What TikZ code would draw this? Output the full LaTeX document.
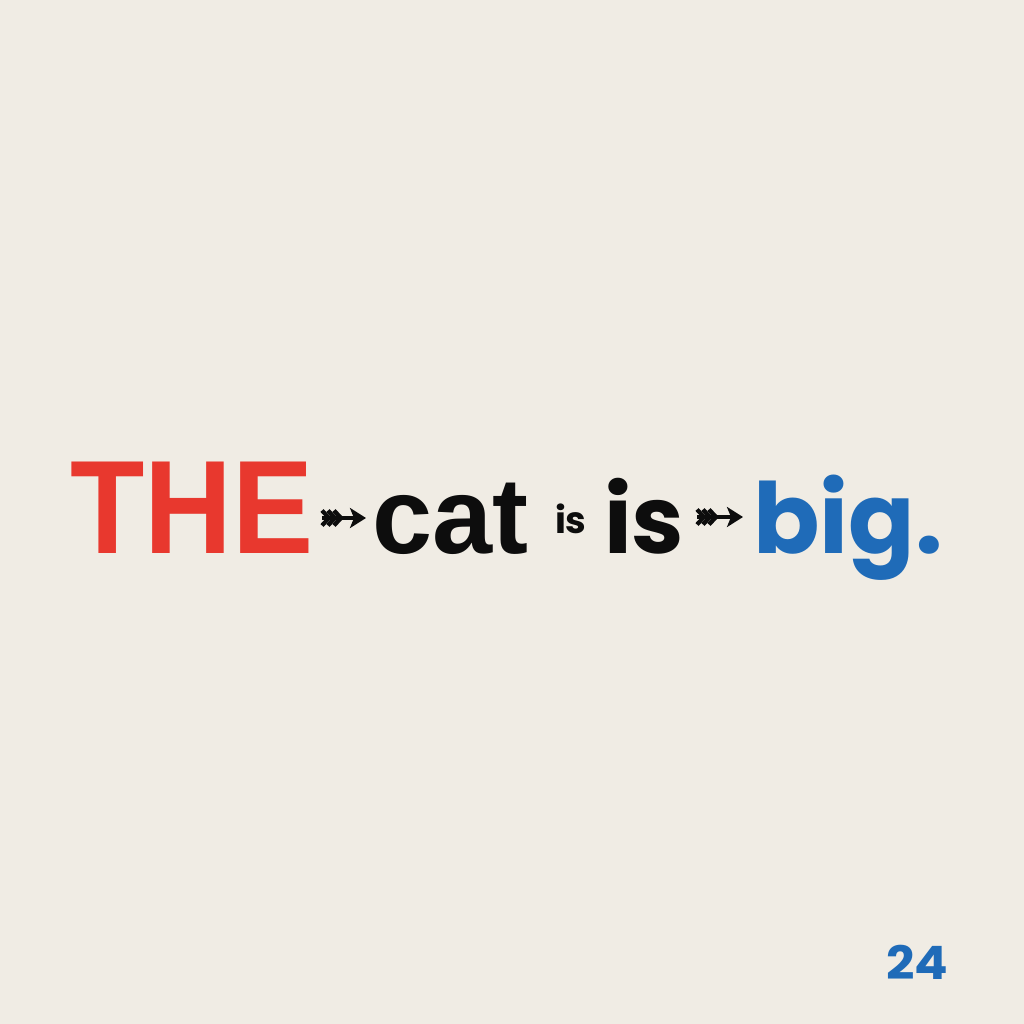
\documentclass[tikz,border=0pt]{standalone}
\usepackage{fontspec}
\setmainfont{Liberation Sans}
\newfontfamily\pop{Poppins}
\usetikzlibrary{arrows.meta,calc}
\definecolor{bg}{HTML}{F0ECE4}
\definecolor{wred}{HTML}{E8382E}
\definecolor{wblue}{HTML}{1F6BB8}
\definecolor{wblack}{HTML}{0D0D0D}
\begin{document}
\begin{tikzpicture}[x=1pt,y=-1pt,
  word/.style={inner sep=0pt,outer sep=0pt,anchor=base west},
  fletchline/.style={wblack,line width=4.2pt,-{Stealth[length=16pt,width=20pt,inset=4pt]}},
  feathers/.pic={\foreach \d in {0,6,12}{\draw[wblack,line width=4.2pt,line cap=butt,line join=miter] (\d,-7.5) -- (\d+7,0) -- (\d,7.5);}}
]
\useasboundingbox (0,0) rectangle (1024,1024);
\fill[bg] (0,0) rectangle (1024,1024);
\node[word,text=wred,font=\bfseries\fontsize{133}{133}\selectfont,xscale=0.915] (the) at (70,553) {THE};
\node[word,text=wblack,font=\bfseries\fontsize{108}{108}\selectfont] (cat) at (372,553) {cat};
\node[word,text=wblack,font=\pop\bfseries\fontsize{37}{37}\selectfont] (is1) at (555,533) {is};
\node[word,text=wblack,font=\pop\bfseries\fontsize{94}{94}\selectfont] (is2) at (604,553) {is};
\node[word,text=wblue,font=\pop\bfseries\fontsize{98}{98}\selectfont] (big) at (753,553) {big.};
\node[word,text=wblue,font=\pop\bfseries\fontsize{46}{46}\selectfont,xscale=1.08] (num) at (886,979) {24};
\coordinate (a1s) at (322,518);
\coordinate (a1e) at (366,518);
\coordinate (a2s) at (697,517);
\coordinate (a2e) at (743,517);
\draw[fletchline] (a1s) -- (a1e);
\pic at (a1s) {feathers};
\draw[fletchline] (a2s) -- (a2e);
\pic at (a2s) {feathers};
\end{tikzpicture}
\end{document}
